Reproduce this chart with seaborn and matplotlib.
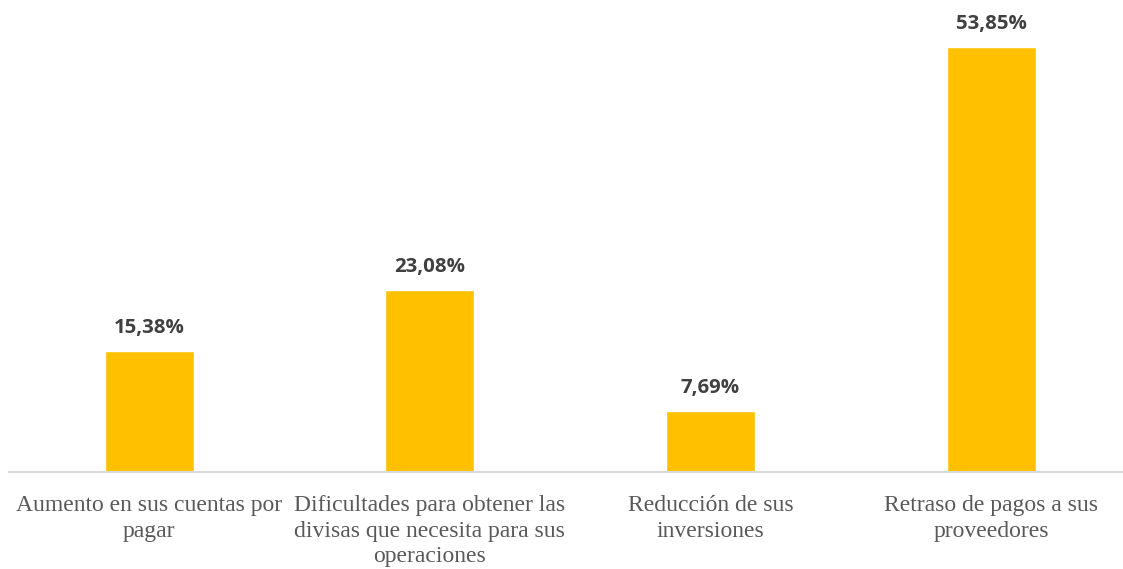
import numpy as np
import pandas as pd
import seaborn as sns
import matplotlib.pyplot as plt

sns.set_style("white")

categories = [
    "Aumento en sus cuentas por\npagar",
    "Dificultades para obtener las\ndivisas que necesita para sus\noperaciones",
    "Reducción de sus\ninversiones",
    "Retraso de pagos a sus\nproveedores",
]
values = [15.38, 23.08, 7.69, 53.85]
value_labels = ["15,38%", "23,08%", "7,69%", "53,85%"]


def main():
    df = pd.DataFrame({"categoria": categories, "valor": values})

    fig = plt.figure(figsize=(11.23, 5.69), dpi=100)
    ax = fig.add_axes([0.008, 0.1705, 0.992, 0.8295])

    sns.barplot(data=df, x="categoria", y="valor", color="#FFC000",
                width=0.317, saturation=1, ax=ax)

    ax.set_ylim(0, 59.8)
    ax.set_xlim(-0.5, 3.47)
    ax.set_xlabel("")
    ax.set_ylabel("")
    ax.set_yticks([])

    for s in ["top", "right", "left"]:
        ax.spines[s].set_visible(False)
    ax.spines["bottom"].set_color("#D9D9D9")
    ax.spines["bottom"].set_linewidth(1.5)

    ax.tick_params(axis="x", length=0, pad=16.5)
    for lbl in ax.get_xticklabels():
        lbl.set_fontfamily("Liberation Serif")
        lbl.set_fontsize(17)
        lbl.set_color("#595959")
        lbl.set_linespacing(1.29)

    for i, (v, t) in enumerate(zip(values, value_labels)):
        ax.annotate(t, (i, v), xytext=(0, 16.5), textcoords="offset points",
                    ha="center", va="center", fontsize=14.7,
                    fontweight="bold", color="#404040", family="Open Sans")

    fig.savefig("out.png", dpi=100)
    plt.close(fig)


if __name__ == "__main__":
    main()
